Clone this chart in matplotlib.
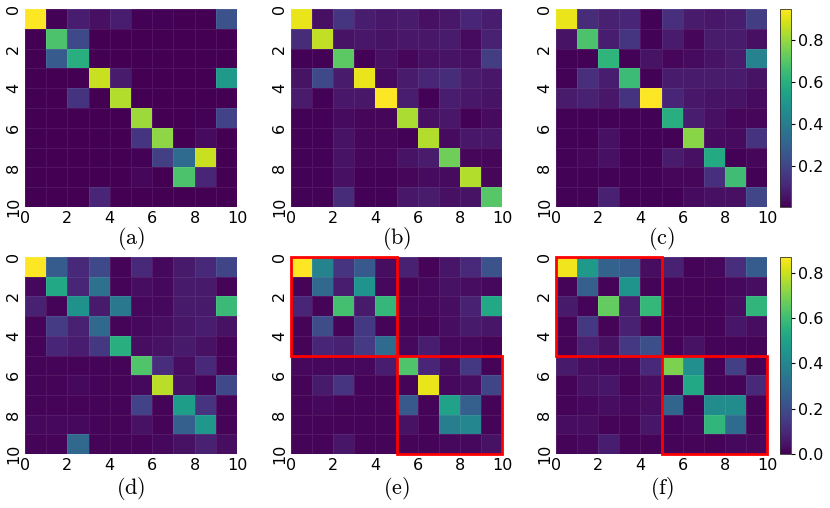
import numpy as np
import matplotlib
matplotlib.use("Agg")
import matplotlib.pyplot as plt
from matplotlib.patches import Rectangle

plt.rcParams['mathtext.fontset'] = 'cm'

panel_labels = ["(a)", "(b)", "(c)", "(d)", "(e)", "(f)"]
tick_labels = ["0", "2", "4", "6", "8", "10"]

mat_a = [
    [0.95, 0.01, 0.08, 0.04, 0.08, 0.01, 0.01, 0.00, 0.00, 0.24],
    [0.00, 0.68, 0.21, 0.00, 0.00, 0.00, 0.00, 0.00, 0.00, 0.00],
    [0.00, 0.27, 0.60, 0.00, 0.00, 0.00, 0.00, 0.00, 0.00, 0.00],
    [0.00, 0.00, 0.00, 0.87, 0.07, 0.00, 0.00, 0.00, 0.00, 0.51],
    [0.00, 0.00, 0.14, 0.00, 0.84, 0.00, 0.00, 0.00, 0.00, 0.00],
    [0.00, 0.00, 0.00, 0.00, 0.00, 0.81, 0.00, 0.00, 0.01, 0.19],
    [0.00, 0.00, 0.00, 0.00, 0.00, 0.15, 0.79, 0.00, 0.03, 0.00],
    [0.00, 0.00, 0.00, 0.00, 0.00, 0.01, 0.18, 0.33, 0.87, 0.00],
    [0.00, 0.00, 0.00, 0.00, 0.00, 0.02, 0.00, 0.68, 0.10, 0.00],
    [0.00, 0.00, 0.00, 0.10, 0.00, 0.00, 0.00, 0.00, 0.00, 0.00],
]
mat_b = [
    [0.92, 0.04, 0.15, 0.08, 0.06, 0.07, 0.04, 0.06, 0.10, 0.08],
    [0.12, 0.86, 0.05, 0.06, 0.05, 0.06, 0.06, 0.07, 0.03, 0.09],
    [0.01, 0.01, 0.71, 0.01, 0.04, 0.02, 0.04, 0.05, 0.04, 0.17],
    [0.05, 0.21, 0.07, 0.92, 0.03, 0.07, 0.10, 0.12, 0.07, 0.06],
    [0.07, 0.01, 0.06, 0.06, 0.95, 0.08, 0.01, 0.08, 0.06, 0.05],
    [0.01, 0.01, 0.03, 0.02, 0.02, 0.83, 0.04, 0.06, 0.01, 0.03],
    [0.01, 0.01, 0.05, 0.02, 0.02, 0.01, 0.84, 0.03, 0.06, 0.06],
    [0.01, 0.01, 0.05, 0.02, 0.02, 0.05, 0.07, 0.74, 0.02, 0.02],
    [0.01, 0.01, 0.04, 0.01, 0.01, 0.02, 0.03, 0.03, 0.84, 0.02],
    [0.01, 0.01, 0.12, 0.01, 0.01, 0.06, 0.07, 0.04, 0.05, 0.70],
]
mat_c = [
    [0.92, 0.12, 0.09, 0.10, 0.01, 0.13, 0.07, 0.06, 0.08, 0.17],
    [0.05, 0.68, 0.08, 0.15, 0.01, 0.07, 0.02, 0.07, 0.07, 0.04],
    [0.01, 0.01, 0.62, 0.01, 0.05, 0.02, 0.03, 0.05, 0.07, 0.42],
    [0.01, 0.13, 0.08, 0.65, 0.01, 0.07, 0.07, 0.07, 0.07, 0.05],
    [0.07, 0.09, 0.06, 0.14, 0.95, 0.10, 0.06, 0.05, 0.05, 0.03],
    [0.01, 0.01, 0.01, 0.01, 0.01, 0.60, 0.08, 0.04, 0.02, 0.02],
    [0.01, 0.01, 0.04, 0.01, 0.01, 0.01, 0.78, 0.03, 0.03, 0.14],
    [0.01, 0.02, 0.04, 0.01, 0.01, 0.07, 0.04, 0.58, 0.01, 0.02],
    [0.01, 0.01, 0.01, 0.01, 0.01, 0.02, 0.02, 0.13, 0.66, 0.01],
    [0.01, 0.01, 0.09, 0.01, 0.01, 0.01, 0.03, 0.04, 0.04, 0.20],
]
mat_d = [
    [0.87, 0.25, 0.10, 0.19, 0.01, 0.10, 0.02, 0.06, 0.10, 0.18],
    [0.02, 0.52, 0.09, 0.32, 0.01, 0.03, 0.02, 0.06, 0.06, 0.01],
    [0.08, 0.01, 0.44, 0.06, 0.35, 0.02, 0.02, 0.06, 0.06, 0.59],
    [0.01, 0.15, 0.08, 0.29, 0.01, 0.02, 0.03, 0.05, 0.07, 0.04],
    [0.01, 0.09, 0.07, 0.14, 0.55, 0.03, 0.04, 0.06, 0.04, 0.01],
    [0.01, 0.01, 0.01, 0.01, 0.01, 0.63, 0.11, 0.03, 0.10, 0.01],
    [0.01, 0.01, 0.02, 0.01, 0.01, 0.02, 0.78, 0.04, 0.01, 0.19],
    [0.01, 0.01, 0.01, 0.01, 0.01, 0.17, 0.01, 0.48, 0.13, 0.01],
    [0.02, 0.02, 0.02, 0.01, 0.01, 0.04, 0.01, 0.26, 0.46, 0.01],
    [0.01, 0.01, 0.29, 0.01, 0.01, 0.01, 0.02, 0.04, 0.08, 0.03],
]
mat_e = [
    [0.87, 0.39, 0.13, 0.24, 0.03, 0.08, 0.01, 0.05, 0.10, 0.22],
    [0.01, 0.29, 0.07, 0.45, 0.02, 0.01, 0.02, 0.04, 0.03, 0.02],
    [0.09, 0.01, 0.61, 0.06, 0.58, 0.02, 0.02, 0.03, 0.08, 0.52],
    [0.01, 0.20, 0.01, 0.14, 0.01, 0.01, 0.01, 0.03, 0.06, 0.05],
    [0.01, 0.09, 0.08, 0.15, 0.30, 0.02, 0.07, 0.02, 0.02, 0.01],
    [0.02, 0.02, 0.02, 0.02, 0.07, 0.63, 0.09, 0.03, 0.14, 0.01],
    [0.01, 0.06, 0.13, 0.01, 0.01, 0.01, 0.84, 0.02, 0.03, 0.18],
    [0.01, 0.02, 0.01, 0.01, 0.01, 0.24, 0.01, 0.50, 0.26, 0.01],
    [0.01, 0.01, 0.01, 0.01, 0.01, 0.04, 0.01, 0.37, 0.40, 0.01],
    [0.01, 0.01, 0.05, 0.01, 0.01, 0.01, 0.01, 0.02, 0.02, 0.04],
]
mat_f = [
    [0.85, 0.47, 0.27, 0.25, 0.03, 0.08, 0.01, 0.02, 0.11, 0.25],
    [0.01, 0.26, 0.01, 0.45, 0.01, 0.01, 0.01, 0.01, 0.02, 0.03],
    [0.06, 0.01, 0.66, 0.07, 0.58, 0.01, 0.01, 0.01, 0.03, 0.57],
    [0.01, 0.14, 0.01, 0.08, 0.01, 0.01, 0.01, 0.01, 0.05, 0.03],
    [0.01, 0.08, 0.04, 0.14, 0.21, 0.01, 0.04, 0.01, 0.01, 0.01],
    [0.06, 0.03, 0.02, 0.02, 0.10, 0.70, 0.43, 0.01, 0.16, 0.01],
    [0.01, 0.04, 0.05, 0.01, 0.03, 0.01, 0.52, 0.01, 0.01, 0.10],
    [0.01, 0.02, 0.03, 0.02, 0.03, 0.28, 0.01, 0.42, 0.42, 0.01],
    [0.03, 0.03, 0.01, 0.01, 0.05, 0.01, 0.02, 0.57, 0.30, 0.01],
    [0.01, 0.02, 0.07, 0.01, 0.01, 0.01, 0.01, 0.01, 0.02, 0.02],
]
matrices = [mat_a, mat_b, mat_c, mat_d, mat_e, mat_f]
row_vmin = [0.003, 0.0]
row_vmax = [0.95, 0.87]
cbar_ticks = [[0.2, 0.4, 0.6, 0.8], [0.0, 0.2, 0.4, 0.6, 0.8]]
blocks = {4: [(0, 5), (5, 10)], 5: [(0, 5), (5, 10)]}

W, H = 830, 508
fig = plt.figure(figsize=(W / 100, H / 100), dpi=100)

col_x = [(25, 237), (291, 502), (556, 767)]
row_y = [(9, 207), (257, 454)]
label_y = [238, 488]
cbar_x = (780, 791)

def frac(x0, y0, x1, y1):
    return [x0 / W, 1 - y1 / H, (x1 - x0) / W, (y1 - y0) / H]

for i, mat in enumerate(matrices):
    r, c = divmod(i, 3)
    x0, x1 = col_x[c]
    y0, y1 = row_y[r]
    ax = fig.add_axes(frac(x0, y0, x1, y1))
    data = np.array(mat)
    edges = np.arange(11)
    mesh = ax.pcolormesh(edges, edges, data, cmap='viridis',
                         vmin=row_vmin[r], vmax=row_vmax[r],
                         edgecolors=(1, 1, 1, 0.08), linewidth=0.5)
    ax.set_xlim(0, 10)
    ax.set_ylim(10, 0)
    ticks = [int(t) for t in tick_labels]
    ax.set_xticks(ticks)
    ax.set_xticklabels(tick_labels, fontsize=11.5)
    ax.set_yticks(ticks)
    ax.set_yticklabels(tick_labels, fontsize=11.5, rotation=90, va='center')
    ax.tick_params(length=0, pad=3)
    for s in ax.spines.values():
        s.set_visible(False)
    for (a, b) in blocks.get(i, []):
        ax.add_patch(Rectangle((a, a), b - a, b - a, fill=False,
                               edgecolor='red', linewidth=2, clip_on=False))
    fig.text((x0 + x1) / 2 / W, 1 - label_y[r] / H,
             r'$\mathrm{' + panel_labels[i] + '}$', ha='center', va='center',
             fontsize=16)
    if c == 2:
        cax = fig.add_axes(frac(cbar_x[0], y0, cbar_x[1], y1))
        cb = fig.colorbar(mesh, cax=cax)
        cb.outline.set_linewidth(0.6)
        cb.outline.set_edgecolor('#333333')
        cb.set_ticks(cbar_ticks[r])
        cb.set_ticklabels([f"{t:.1f}" for t in cbar_ticks[r]])
        cax.tick_params(labelsize=11.5, length=3, width=0.8, pad=2)

fig.savefig("out.png", dpi=100)
